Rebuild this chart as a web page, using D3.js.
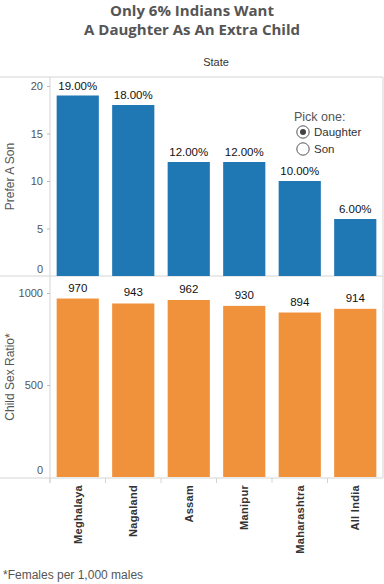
<!DOCTYPE html>
<head>
<meta charset="utf-8">
<script src="https://d3js.org/d3.v7.min.js"></script>
<style>
body{ margin:0; background:#fff; }
text{ font-family: "Liberation Sans", Arial, sans-serif; }
text.title{ font-family: "Open Sans", sans-serif; font-size:15px; font-weight:700; fill:#555; }
text.axisTitle{ font-size:12px; fill:#555; }
text.valueLabel{ font-size:11.5px; fill:#111; }
text.state{ font-size:11px; font-weight:700; fill:#333; letter-spacing:0.3px; }
.tick text{ font-size:11px; fill:#555; font-family: "Liberation Sans", Arial, sans-serif; }
.tick line{ stroke:#bbb; }
path.domain{ display:none; }
</style>
</head>
<body>
<script>
const width = 384, height = 584;

const states        = ["Meghalaya", "Nagaland", "Assam", "Manipur", "Maharashtra", "All India"];
const preferSon     = [19, 18, 12, 12, 10, 6];
const childSexRatio = [970, 943, 962, 930, 894, 914];
const sonTicks      = [0, 5, 10, 15, 20];
const ratioTicks    = [0, 500, 1000];
const pickOptions   = ["Daughter", "Son"];

const blue = "#1f77b4", orange = "#f0923c", grid = "#d4d4d4";

const svg = d3.select("body").append("svg")
   .attr("width", width)
   .attr("height", height);

// titles
svg.append("text").attr("class","title").attr("x",192).attr("y",16)
   .attr("text-anchor","middle").text("Only 6% Indians Want");
svg.append("text").attr("class","title").attr("x",192).attr("y",35)
   .attr("text-anchor","middle").text("A Daughter As An Extra Child");
svg.append("text").attr("x",216).attr("y",66).attr("text-anchor","middle")
   .style("font-size","11px").style("fill","#333").text("State");

const left = 50, right = 383;
const topY = 77, midY = 276, botY = 478;

const x = d3.scaleBand().domain(states).range([left, right])
   .paddingInner(0.24).paddingOuter(0.12);

const ySon = d3.scaleLinear().domain([0, 20]).range([276, 86]);
const yRatio = d3.scaleLinear().domain([0, 1000]).range([477, 293]);

// frame lines
[topY, midY, botY].forEach(yy => svg.append("line")
   .attr("x1",0).attr("x2",right).attr("y1",yy).attr("y2",yy)
   .attr("stroke",grid));
svg.append("line").attr("x1",left).attr("x2",left).attr("y1",topY).attr("y2",botY+5).attr("stroke",grid);
svg.append("line").attr("x1",right).attr("x2",right).attr("y1",topY).attr("y2",botY).attr("stroke",grid);

// y axes (zero label sits above the baseline like the original)
function yAxis(scale, ticks){
   const g = svg.append("g").attr("transform",`translate(${left},0)`)
      .call(d3.axisLeft(scale).tickValues(ticks).tickSize(3).tickPadding(4).tickFormat(d3.format("d")));
   g.selectAll(".tick").filter(d => d === 0).select("text").attr("dy","-0.3em");
   g.selectAll(".tick").filter(d => d === 0).select("line").remove();
}
yAxis(ySon, sonTicks);
yAxis(yRatio, ratioTicks);

svg.append("text").attr("class","axisTitle")
   .attr("transform",`translate(14,${(topY+midY)/2}) rotate(-90)`)
   .attr("text-anchor","middle").text("Prefer A Son");
svg.append("text").attr("class","axisTitle")
   .attr("transform",`translate(14,${(midY+botY)/2}) rotate(-90)`)
   .attr("text-anchor","middle").text("Child Sex Ratio*");

// top bars
const sonData = states.map((s,i) => ({state:s, value:preferSon[i]}));
svg.selectAll("rect.son").data(sonData).enter().append("rect")
   .attr("class","son")
   .attr("x", d => x(d.state)).attr("width", x.bandwidth())
   .attr("y", d => ySon(d.value)).attr("height", d => ySon(0)-ySon(d.value))
   .style("fill", blue);
svg.selectAll("text.sonVal").data(sonData).enter().append("text")
   .attr("class","valueLabel")
   .attr("x", d => x(d.state)+x.bandwidth()/2).attr("y", d => ySon(d.value)-6)
   .attr("text-anchor","middle").text(d => d.value.toFixed(2)+"%");

// bottom bars
const ratioData = states.map((s,i) => ({state:s, value:childSexRatio[i]}));
svg.selectAll("rect.ratio").data(ratioData).enter().append("rect")
   .attr("class","ratio")
   .attr("x", d => x(d.state)).attr("width", x.bandwidth())
   .attr("y", d => yRatio(d.value)).attr("height", d => yRatio(0)-yRatio(d.value))
   .style("fill", orange);
svg.selectAll("text.ratioVal").data(ratioData).enter().append("text")
   .attr("class","valueLabel")
   .attr("x", d => x(d.state)+x.bandwidth()/2).attr("y", d => yRatio(d.value)-7)
   .attr("text-anchor","middle").text(d => d.value);

// x axis with band separators
const xAxisG = svg.append("g").attr("transform",`translate(0,${botY})`);
x.domain().forEach(s => {
   xAxisG.append("line").attr("x1", x(s)-x.step()*x.paddingInner()/2)
      .attr("x2", x(s)-x.step()*x.paddingInner()/2)
      .attr("y1",0).attr("y2",5).attr("stroke",grid);
   xAxisG.append("text").attr("class","state")
      .attr("transform",`translate(${x(s)+x.bandwidth()/2+4},7) rotate(-90)`)
      .attr("text-anchor","end").text(s);
});

// legend
svg.append("text").attr("x",294).attr("y",121)
   .style("font-size","12.5px").style("fill","#555").text("Pick one:");
pickOptions.forEach((o,i) => {
   const cy = 132 + i*17;
   svg.append("circle").attr("cx",303).attr("cy",cy).attr("r",6.2)
      .attr("fill","#fff").attr("stroke","#555");
   if (i === 0) svg.append("circle").attr("cx",303).attr("cy",cy).attr("r",3).attr("fill","#444");
   svg.append("text").attr("x",314).attr("y",cy+4)
      .style("font-size","11.5px").style("fill","#333").text(o);
});

// footnote
svg.append("text").attr("x",3).attr("y",579)
   .style("font-size","12px").style("fill","#555").text("*Females per 1,000 males");
</script>
</body>
